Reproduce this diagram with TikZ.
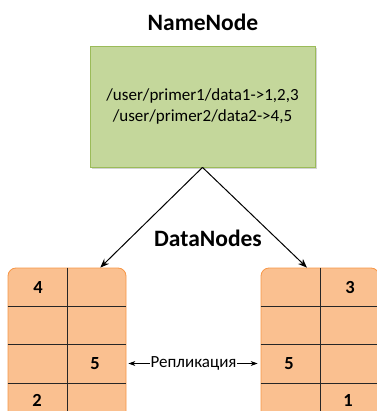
\documentclass[tikz,border=0pt]{standalone}
\usepackage{fontspec}
\setmainfont{Carlito}
\usepackage{tikz}
\usetikzlibrary{arrows.meta,positioning,calc,shadows}
\definecolor{nnfill}{HTML}{C4D79B}
\definecolor{nnline}{HTML}{9BBB59}
\definecolor{dnfill}{HTML}{FAC090}
\definecolor{dnline}{HTML}{F79646}

\begin{document}
\begin{tikzpicture}
  [x=1pt,y=-1pt,
   title/.style={font=\fontsize{23.5}{28}\selectfont\bfseries},
   namebox/.style={rectangle, draw=nnline, fill=nnfill, line width=0.8pt, minimum width=225pt, minimum height=121pt, align=center, font=\fontsize{17}{20.5}\selectfont, drop shadow={opacity=0.35, shadow xshift=2pt, shadow yshift=-2pt}},
   databox/.style={rectangle, draw=dnline, fill=dnfill, line width=0.8pt, rounded corners=8pt, minimum width=118pt, minimum height=153pt},
   grid/.style={draw=black!85, line width=0.8pt},
   num/.style={font=\fontsize{18.5}{22}\selectfont\bfseries, inner sep=0pt}]
  \useasboundingbox (0,0) rectangle (376,411);

  \node [title] (NNtitle) at (203,22) {NameNode};
  \node [namebox] (NN) at (202.5,106.5) {/user/primer1/data1->1,2,3\\/user/primer2/data2->4,5};

  \node [title] (DNtitle) at (208,238) {DataNodes};

  \node [databox] (DL) at (67,344.5) {};
  \node [databox] (DR) at (320,344.5) {};

  % cells of the data nodes
  \foreach \d in {DL,DR}{
    \draw [grid] (\d.north) -- (\d.south);
    \foreach \f in {0.25,0.5,0.75}
      \draw [grid] ($(\d.north west)!\f!(\d.south west)$) -- ($(\d.north east)!\f!(\d.south east)$);
  }

  \node [num] (L4) at (38,287) {4};
  \node [num] (L5) at (95,363.5) {5};
  \node [num] (L2) at (37,400) {2};
  \node [num] (R3) at (350,287) {3};
  \node [num] (R5) at (289,363.5) {5};
  \node [num] (R1) at (348,400) {1};

  \path [-{Stealth[length=9pt,width=7pt]}] [line width=1pt]
  (NN.south) edge ($(DL.north)!0.56!(DL.north east)$)
  (NN.south) edge ($(DR.north)!0.22!(DR.north west)$);

  \draw [{Stealth[length=7pt,width=5pt]}-{Stealth[length=7pt,width=5pt]}, line width=0.8pt, shorten <=2pt, shorten >=3pt]
  (L5 -| DL.east) -- node [fill=white, inner sep=1pt, font=\fontsize{17}{20}\selectfont] {Репликация} (R5 -| DR.west);

\end{tikzpicture}
\end{document}
